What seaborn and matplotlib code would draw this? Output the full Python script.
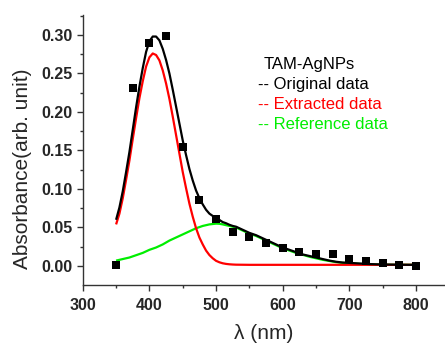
import matplotlib
matplotlib.use("Agg")
import matplotlib.pyplot as plt
from matplotlib.ticker import MultipleLocator
import seaborn as sns
import pandas as pd

# Measured absorbance (squares)
wl_meas = [350, 375, 400, 425, 450, 475, 500, 525, 550, 575, 600, 625,
           650, 675, 700, 725, 750, 775, 800]
abs_meas = [0.0013, 0.2316, 0.289, 0.2987, 0.155, 0.0857, 0.061, 0.0446,
            0.037, 0.030, 0.024, 0.0186, 0.015, 0.015, 0.0087, 0.0065,
            0.0035, 0.0017, 0.0]

# Fitted curves: every 5 nm up to 530 nm, every 10 nm beyond
wl_fit = list(range(350, 531, 5)) + list(range(540, 801, 10))
abs_original = [
    0.060, 0.076, 0.097, 0.122, 0.148, 0.177, 0.206, 0.233, 0.257, 0.278,
    0.292, 0.298, 0.298, 0.293, 0.282, 0.2675, 0.250, 0.229, 0.207, 0.185,
    0.163, 0.144, 0.126, 0.111, 0.098, 0.088, 0.080, 0.073, 0.068, 0.065,
    0.062, 0.0598, 0.057, 0.0555, 0.0535, 0.052, 0.051,
    0.047, 0.043, 0.040, 0.036, 0.032, 0.028, 0.024, 0.021, 0.018, 0.015,
    0.013, 0.011, 0.009, 0.007, 0.0055, 0.0045, 0.004, 0.0035, 0.003,
    0.0025, 0.0022, 0.002, 0.0018, 0.0017, 0.0016, 0.0015, 0.0015]
abs_extracted = [
    0.054, 0.068, 0.088, 0.112, 0.137, 0.165, 0.192, 0.218, 0.240, 0.259,
    0.271, 0.276, 0.274, 0.267, 0.254, 0.237, 0.217, 0.194, 0.170, 0.146,
    0.122, 0.101, 0.081, 0.064, 0.049, 0.037, 0.028, 0.020, 0.0142, 0.0100,
    0.0067, 0.0048, 0.0035, 0.0027, 0.0022, 0.0019, 0.0017,
    0.0016, 0.0015, 0.0015, 0.0015, 0.0015, 0.0015, 0.0015, 0.0015, 0.0015,
    0.0015, 0.0015, 0.0015, 0.0015, 0.0015, 0.0015, 0.0015, 0.0015, 0.0015,
    0.0015, 0.0015, 0.0015, 0.0015, 0.0015, 0.0015, 0.0015, 0.0015, 0.0015]
abs_reference = [
    0.007, 0.008, 0.009, 0.010, 0.011, 0.0125, 0.014, 0.0155, 0.017, 0.019,
    0.021, 0.0225, 0.024, 0.026, 0.028, 0.0305, 0.033, 0.035, 0.037, 0.039,
    0.041, 0.043, 0.045, 0.047, 0.049, 0.0505, 0.052, 0.053, 0.054, 0.0545,
    0.055, 0.0548, 0.054, 0.053, 0.052, 0.051, 0.050,
    0.046, 0.042, 0.039, 0.035, 0.031, 0.027, 0.023, 0.020, 0.017, 0.0145,
    0.012, 0.010, 0.008, 0.0065, 0.005, 0.004, 0.0035, 0.003, 0.0025, 0.002,
    0.0018, 0.0017, 0.0016, 0.0015, 0.0015, 0.0015, 0.0015]

legend_title = "TAM-AgNPs"
legend_lines = ["-- Original data", "-- Extracted data", "-- Reference data"]

RED = "#ff0000"
GREEN = "#00ee00"

sns.set_style("ticks")
plt.rcParams["font.family"] = ["Liberation Sans", "DejaVu Sans"]

fits = pd.DataFrame({"wl": wl_fit, "orig": abs_original,
                     "ext": abs_extracted, "ref": abs_reference})
meas = pd.DataFrame({"wl": wl_meas, "a": abs_meas})

fig = plt.figure(figsize=(4.45, 3.44), dpi=100)
ax = fig.add_axes([0.186, 0.1715, 0.814, 0.785])

line_kw = dict(lw=1.6, solid_joinstyle="round", solid_capstyle="butt")
sns.lineplot(data=fits, x="wl", y="ref", color=GREEN, ax=ax, **line_kw)
sns.lineplot(data=fits, x="wl", y="ext", color=RED, ax=ax, **line_kw)
sns.lineplot(data=fits, x="wl", y="orig", color="black", ax=ax, **line_kw)
sns.scatterplot(data=meas, x="wl", y="a", marker="s", s=30, color="black",
                edgecolor="black", linewidth=0, ax=ax, zorder=5)

ax.set_xlim(300, 843.5)
ax.set_ylim(-0.0247, 0.326)
ax.xaxis.set_minor_locator(MultipleLocator(50))
ax.yaxis.set_minor_locator(MultipleLocator(0.025))
ax.set_xticks([300, 400, 500, 600, 700, 800])
ax.set_yticks([0.0, 0.05, 0.10, 0.15, 0.20, 0.25, 0.30])
ax.set_yticklabels(["0.00", "0.05", "0.10", "0.15", "0.20", "0.25", "0.30"])

for side in ("top", "right"):
    ax.spines[side].set_visible(False)
for side in ("left", "bottom"):
    ax.spines[side].set_color("#333333")
    ax.spines[side].set_linewidth(1.0)

ax.tick_params(which="major", direction="out", length=4, width=1.0,
               color="#333333", labelsize=11.5, pad=3.5)
ax.tick_params(which="minor", direction="out", length=2.5, width=1.0,
               color="#333333")
ax.tick_params(axis="x", which="major", pad=5)
for lab in ax.get_xticklabels() + ax.get_yticklabels():
    lab.set_fontweight("bold")

ax.set_xlabel("λ (nm)", fontsize=15)
ax.set_ylabel("Absorbance(arb. unit)", fontsize=15)
ax.yaxis.set_label_coords(-0.14, 0.43)
ax.xaxis.set_label_coords(0.5, -0.145)

ax.text(0.498, 0.815, legend_title, transform=ax.transAxes, fontsize=12,
        va="center", ha="left", color="black")
for txt, col, yy in zip(legend_lines, ["black", RED, GREEN],
                        [0.741, 0.667, 0.593]):
    ax.text(0.484, yy, txt, transform=ax.transAxes, fontsize=12,
            va="center", ha="left", color=col)

fig.savefig("out.png", dpi=100)
